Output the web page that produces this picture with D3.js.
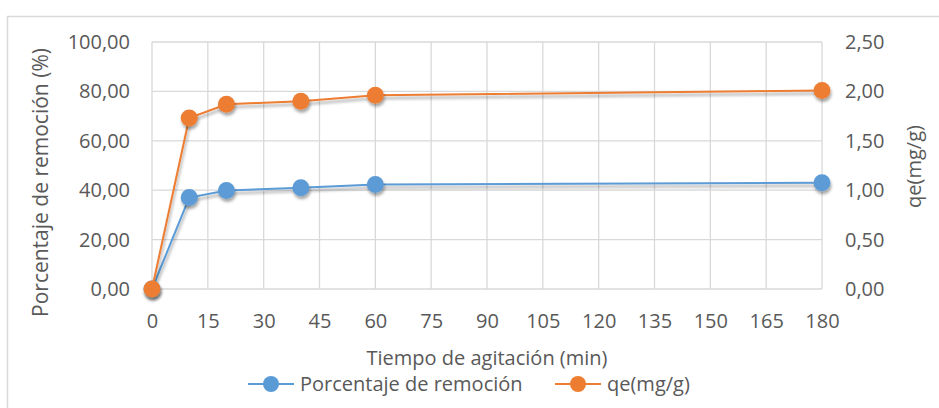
<!DOCTYPE html>
<html>
<head>
<meta charset="utf-8">
<script src="https://cdn.jsdelivr.net/npm/d3@7"></script>
<style>
  html, body { margin: 0; padding: 0; background: #fff; }
  svg { display: block; font-family: "Open Sans", "Noto Sans", sans-serif; }
</style>
</head>
<body>
<svg id="chart" width="939" height="408"></svg>
<script>
// Agitation time (min)
const tiempo = [0, 10, 20, 40, 60, 180];
// Removal percentage (%), left axis
const remocion = [0, 37.0, 39.9, 41.0, 42.3, 43.0];
// Adsorption capacity qe (mg/g), right axis
const qe = [0, 1.73, 1.87, 1.90, 1.96, 2.01];

const xTicks = [0, 15, 30, 45, 60, 75, 90, 105, 120, 135, 150, 165, 180];
const yLeftTicks = [0, 20, 40, 60, 80, 100];
const yRightTicks = [0, 0.5, 1.0, 1.5, 2.0, 2.5];

const seriesNames = ["Porcentaje de remoción", "qe(mg/g)"];
const colors = ["#5B9BD5", "#ED7D31"];

const svg = d3.select("#chart");
const W = 939, H = 408;
const plot = { left: 152, right: 822, top: 42, bottom: 289 };

const fmt = v => d3.format(".2f")(v).replace(".", ",");

// Outer chart frame
svg.append("rect")
  .attr("x", 7.5).attr("y", 16.5)
  .attr("width", W + 10).attr("height", H + 10)
  .attr("fill", "#fff").attr("stroke", "#d9d9d9").attr("stroke-width", 1.5);

// Shadow used by lines and markers
const defs = svg.append("defs");
const f = defs.append("filter").attr("id", "shadow")
  .attr("x", "-50%").attr("y", "-50%").attr("width", "200%").attr("height", "200%");
f.append("feDropShadow")
  .attr("dx", 1).attr("dy", 3).attr("stdDeviation", 1.8)
  .attr("flood-color", "#000").attr("flood-opacity", 0.35);

const x = d3.scaleLinear().domain([0, 180]).range([plot.left, plot.right]);
const yL = d3.scaleLinear().domain([0, 100]).range([plot.bottom, plot.top]);
const yR = d3.scaleLinear().domain([0, 2.5]).range([plot.bottom, plot.top]);

// Grid
const grid = svg.append("g").attr("stroke", "#d9d9d9").attr("stroke-width", 1.3);
grid.selectAll("line.v").data(xTicks).join("line")
  .attr("x1", d => x(d)).attr("x2", d => x(d))
  .attr("y1", plot.top).attr("y2", plot.bottom);
grid.selectAll("line.h").data(yLeftTicks).join("line")
  .attr("x1", plot.left).attr("x2", plot.right)
  .attr("y1", d => yL(d)).attr("y2", d => yL(d));

const textColor = "#595959";
const tickSize = 20;

// Axes (labels only, Excel style)
const axB = svg.append("g").attr("transform", `translate(0,${plot.bottom})`)
  .call(d3.axisBottom(x).tickValues(xTicks).tickSize(0).tickPadding(22).tickFormat(d3.format("d")));
const axL = svg.append("g").attr("transform", `translate(${plot.left},0)`)
  .call(d3.axisLeft(yL).tickValues(yLeftTicks).tickSize(0).tickPadding(22).tickFormat(fmt));
const axR = svg.append("g").attr("transform", `translate(${plot.right},0)`)
  .call(d3.axisRight(yR).tickValues(yRightTicks).tickSize(0).tickPadding(23).tickFormat(fmt));
[axB, axL, axR].forEach(a => {
  a.select(".domain").remove();
  a.selectAll("text").attr("fill", textColor).attr("font-size", tickSize)
    .attr("font-family", "'Open Sans', sans-serif");
});
axB.selectAll("text").attr("dy", "0.71em").attr("y", 25);

// Axis titles
svg.append("text")
  .attr("transform", `translate(48,${(plot.top + plot.bottom) / 2 + 17}) rotate(-90)`)
  .attr("text-anchor", "middle").attr("fill", textColor).attr("font-size", 21)
  .text("Porcentaje de remoción (%)");
svg.append("text")
  .attr("transform", `translate(921,${(plot.top + plot.bottom) / 2 + 1}) rotate(-90)`)
  .attr("text-anchor", "middle").attr("fill", textColor).attr("font-size", 20)
  .text("qe(mg/g)");
svg.append("text")
  .attr("x", 487).attr("y", 365)
  .attr("text-anchor", "middle").attr("fill", textColor).attr("font-size", 20)
  .text("Tiempo de agitación (min)");

// Series
const series = [
  { name: seriesNames[0], values: remocion, y: yL, color: colors[0] },
  { name: seriesNames[1], values: qe, y: yR, color: colors[1] }
];

series.forEach(s => {
  const pts = tiempo.map((t, i) => [t, s.values[i]]);
  const g = svg.append("g");
  g.append("path")
    .datum(pts)
    .attr("fill", "none").attr("stroke", s.color).attr("stroke-width", 2)
    .attr("filter", "url(#shadow)")
    .attr("d", d3.line().x(d => x(d[0])).y(d => s.y(d[1])));
  g.selectAll("circle").data(pts).join("circle")
    .attr("cx", d => x(d[0])).attr("cy", d => s.y(d[1]))
    .attr("r", 8.5).attr("fill", s.color)
    .attr("filter", "url(#shadow)");
});

// Legend
const legend = svg.append("g").attr("transform", "translate(0,384)");
const legendItems = [
  { name: seriesNames[0], color: colors[0], x0: 248 },
  { name: seriesNames[1], color: colors[1], x0: 555 }
];
legendItems.forEach(it => {
  const g = legend.append("g").attr("transform", `translate(${it.x0},0)`);
  g.append("line").attr("x1", 0).attr("x2", 46).attr("y1", 0).attr("y2", 0)
    .attr("stroke", it.color).attr("stroke-width", 2);
  g.append("circle").attr("cx", 23).attr("cy", 0).attr("r", 8).attr("fill", it.color);
  g.append("text").attr("x", 52).attr("y", 0).attr("dy", "0.35em")
    .attr("fill", textColor).attr("font-size", 20).text(it.name);
});
</script>
</body>
</html>
